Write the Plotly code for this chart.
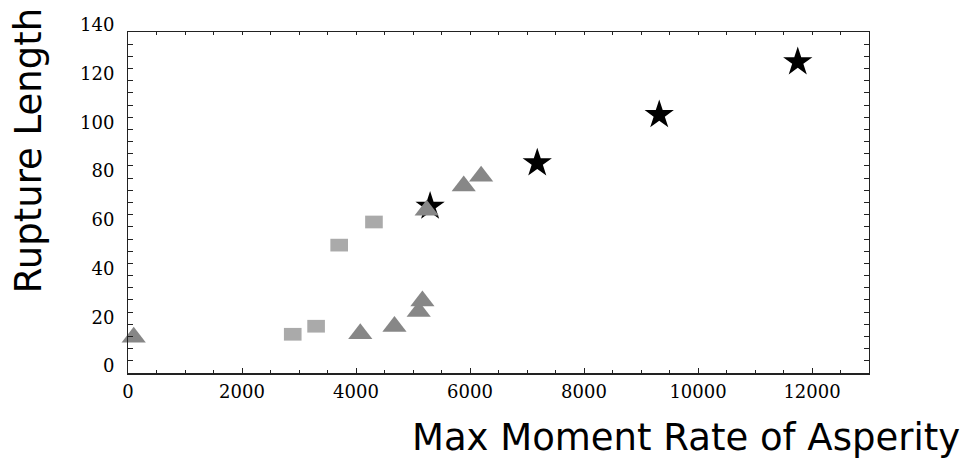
import plotly.graph_objects as go

# Asperity data: maximum moment rate vs rupture length
square_x = [2890, 3300, 3705, 4315]
square_y = [15.9, 19.2, 52.5, 62.0]

star_x = [5300, 7180, 9320, 11750]
star_y = [68.4, 86.2, 106.0, 127.7]

tri_x = [100, 4075, 4675, 5100, 5165, 5240, 5890, 6195]
tri_y = [14.7, 16.1, 19.1, 25.2, 29.6, 66.8, 76.8, 80.8]

x_range = [0, 13000]
y_range = [0, 140]

LIGHT = "#aaaaaa"
MID = "#878787"

fig = go.Figure()

# rectangular markers: a thick horizontal stroke
fig.add_trace(go.Scatter(
    x=square_x, y=square_y, mode="markers",
    marker=dict(symbol="line-ew", size=12.6, color=LIGHT,
                line=dict(color=LIGHT, width=12.7)),
    showlegend=False, cliponaxis=False,
))
fig.add_trace(go.Scatter(
    x=star_x, y=star_y, mode="markers",
    marker=dict(symbol="star", size=22, color="black", line=dict(width=0)),
    showlegend=False, cliponaxis=False,
))
fig.add_trace(go.Scatter(
    x=tri_x, y=tri_y, mode="markers",
    marker=dict(symbol="triangle-up", size=21, color=MID, line=dict(width=0)),
    showlegend=False, cliponaxis=False,
))

tick_font = dict(family="DejaVu Serif", size=18, color="black")

fig.update_layout(
    width=968, height=463,
    margin=dict(l=128, r=99, t=32, b=90),
    paper_bgcolor="white", plot_bgcolor="white",
    xaxis=dict(
        range=x_range, dtick=2000, tick0=0, tickformat="d",
        showgrid=False, zeroline=False,
        showline=True, linecolor="#222222", linewidth=2,
        ticks="inside", ticklen=5, tickwidth=1, tickcolor="#222222",
        minor=dict(dtick=500, ticks="inside", ticklen=3, tickcolor="#222222", showgrid=False),
        tickfont=tick_font, ticklabelstandoff=1,
    ),
    xaxis2=dict(
        range=x_range, overlaying="x", side="top", matches="x",
        showgrid=False, zeroline=False, showticklabels=False,
        showline=True, linecolor="#222222", linewidth=1,
        ticks="inside", ticklen=3, tickwidth=1, tickcolor="#222222", dtick=500, tick0=0,
    ),
    yaxis=dict(
        range=y_range, dtick=20, tick0=0, tickformat="d",
        showgrid=False, zeroline=False,
        showline=True, linecolor="#222222", linewidth=1, mirror="allticks",
        ticks="inside", ticklen=5, tickwidth=1, tickcolor="#222222",
        minor=dict(dtick=5, ticks="inside", ticklen=3, tickcolor="#222222", showgrid=False),
        tickfont=tick_font, ticklabelshift=-7, ticklabelstandoff=9,
    ),
    annotations=[
        dict(text="Max Moment Rate of Asperity", xref="paper", yref="paper",
             x=1.1255, y=-0.19, xanchor="right", yanchor="middle", showarrow=False,
             font=dict(family="DejaVu Sans", size=37, color="black")),
        dict(text="Rupture Length", xref="paper", yref="paper",
             x=-0.135, y=0.653, xanchor="center", yanchor="middle", textangle=-90,
             showarrow=False,
             font=dict(family="DejaVu Sans", size=37, color="black")),
    ],
)

# invisible trace so the top axis is drawn
fig.add_trace(go.Scatter(x=[None], y=[None], xaxis="x2", showlegend=False, hoverinfo="skip"))

fig.write_html("out.html")
